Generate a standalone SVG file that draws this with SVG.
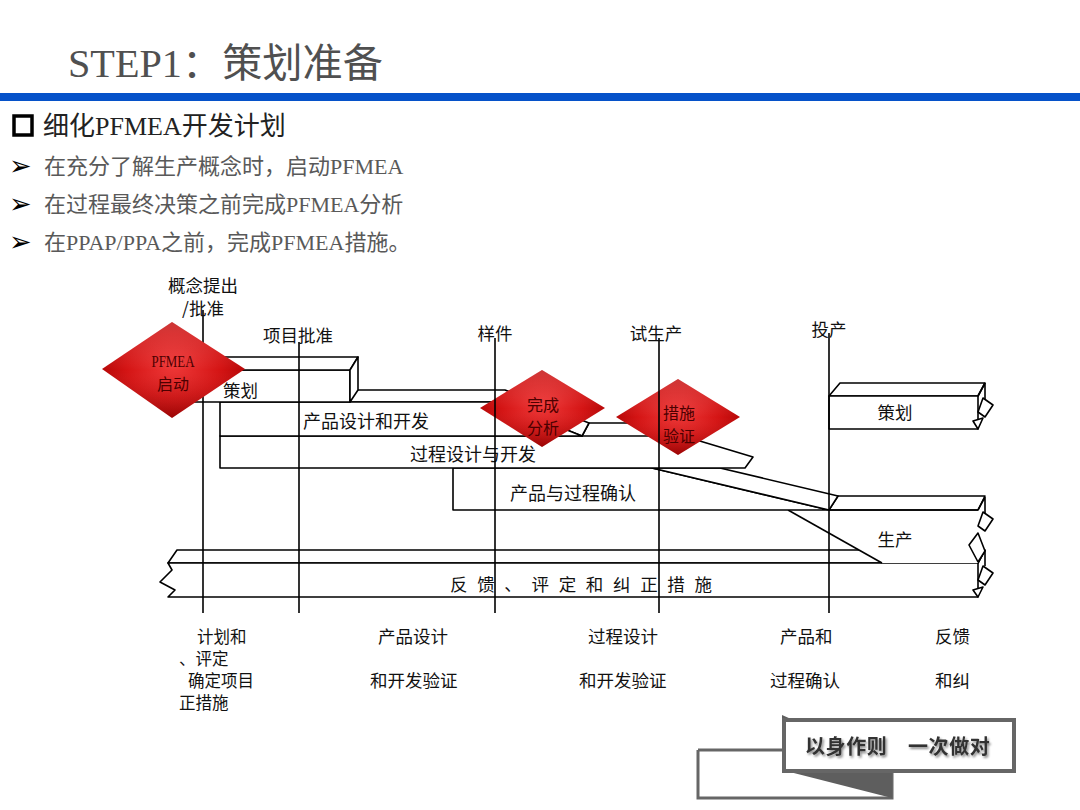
<svg xmlns="http://www.w3.org/2000/svg" width="1080" height="810" viewBox="0 0 1080 810">
<defs>
<style>
.cjk{font-family:"Liberation Serif","Noto Sans CJK SC",serif}
.lbl{font-family:"Noto Sans CJK SC",sans-serif;font-size:17.5px;fill:#111}
.slbl{font-family:"Noto Sans CJK SC",sans-serif;font-size:16.5px;fill:#111}
.blbl{font-family:"Noto Sans CJK SC",sans-serif;font-size:18px;fill:#111}
.mid{text-anchor:middle}
.ln{stroke:#000;stroke-width:1.6;fill:none}
.bar{fill:#fff;stroke:#000;stroke-width:1.6;stroke-linejoin:round}
.dtx{font-family:"Noto Sans CJK SC",sans-serif;font-size:16px;fill:#4d0000;text-anchor:middle}
.bul{font-family:"Liberation Serif","Noto Sans CJK SC",serif;font-size:22px;fill:#595959}
.arr{font-family:"DejaVu Sans",sans-serif;font-size:27px;fill:#000}
</style>
<radialGradient id="red" cx="50%" cy="45%" r="60%">
<stop offset="0" stop-color="#f03a3a"/>
<stop offset="0.55" stop-color="#d41414"/>
<stop offset="1" stop-color="#a80000"/>
</radialGradient>
<linearGradient id="shine" x1="0" y1="0" x2="0" y2="1">
<stop offset="0" stop-color="#fff" stop-opacity="0.18"/>
<stop offset="0.5" stop-color="#fff" stop-opacity="0"/>
<stop offset="1" stop-color="#000" stop-opacity="0.12"/>
</linearGradient>
<filter id="sh" x="-10%" y="-30%" width="120%" height="160%">
<feDropShadow dx="1.5" dy="2" stdDeviation="1.2" flood-color="#000" flood-opacity="0.45"/>
</filter>
</defs>

<rect width="1080" height="810" fill="#fff"/>

<!-- header -->
<g id="header">
<text x="68" y="77" class="cjk" font-size="40" fill="#505050" textLength="315" lengthAdjust="spacingAndGlyphs">STEP1：策划准备</text>
<rect x="0" y="93" width="1080" height="8" fill="#0652c9"/>
<rect x="14" y="116" width="18" height="19" fill="none" stroke="#000" stroke-width="3.5"/>
<text x="43" y="135" class="cjk" font-size="26" fill="#222">细化PFMEA开发计划</text>
</g>

<g id="bullets">
<text x="9" y="175" class="arr">➢</text>
<text x="44" y="174" class="bul">在充分了解生产概念时，启动PFMEA</text>
<text x="9" y="213" class="arr">➢</text>
<text x="44" y="212" class="bul">在过程最终决策之前完成PFMEA分析</text>
<text x="9" y="251" class="arr">➢</text>
<text x="44" y="250" class="bul">在PPAP/PPA之前，完成PFMEA措施。</text>
</g>

<!-- bars -->
<g id="feedback-bar">
<polygon class="bar" points="177,550 985,550 978,563 168,563"/>
<path class="bar" d="M168,563 L978,563 L978,597 L168,597 L175,590 L160,582 L172,570 Z"/>
<rect x="446" y="572" width="270" height="21" fill="#fff"/>
<g transform="translate(978,563)">
<path class="ln" d="M0,0 L7,-13 L7,3"/>
<polygon class="bar" points="5,3 15,10 7,22 0,17"/>
<polygon class="bar" points="-5,27 5,24 0,34"/>
</g>
<text x="450" y="591" class="lbl" textLength="262" lengthAdjust="spacing">反 馈 、 评 定 和 纠 正 措 施</text>
</g>

<g id="production-bar">
<polygon points="788,510 978,510 978,563 882,563" fill="#fff"/>
<line class="ln" x1="788" y1="510" x2="882" y2="563"/>
<polygon class="bar" points="838,496 985,496 978,510 829,510"/>
<g transform="translate(978,510)">
<path class="ln" d="M0,0 L7,-13 L7,3"/>
<polygon class="bar" points="5,2 15,9 7,21 0,16"/>
<polygon class="bar" points="0,23 -9,35 0,52 7,41"/>
</g>
<text x="895" y="546" class="lbl mid">生产</text>
</g>

<g id="validation-bar">
<polygon class="bar" points="453,468 652,468 829,510 453,510"/>
<line class="ln" x1="829" y1="510" x2="978" y2="510"/>
<polygon class="bar" points="652,468 720,468 838,496 829,510"/>
<text x="510" y="499.5" class="blbl">产品与过程确认</text>
</g>

<g id="process-bar">
<polygon class="bar" points="220,436 582,436 589,423 640,423 753,457 745,468 220,468"/>
<line class="ln" x1="582" y1="436" x2="650" y2="436"/>
<text x="410" y="461" class="blbl">过程设计与开发</text>
</g>

<g id="product-bar">
<polygon class="bar" points="350,390 505,390 589,423 582,436 497,402 350,402"/>
<polygon class="bar" points="220,402 497,402 582,436 220,436"/>
<text x="303" y="428" class="blbl">产品设计和开发</text>
</g>

<g id="plan-bar">
<polygon class="bar" points="172,370 350,370 350,402 172,402"/>
<polygon class="bar" points="185,357 358,357 350,370 172,370"/>
<polygon class="bar" points="350,370 358,357 358,390 350,402"/>
<text x="223" y="397" class="lbl">策划</text>
</g>

<g id="plan-bar-right">
<polygon class="bar" points="840,383 985,383 978,396 829,396"/>
<polygon class="bar" points="829,396 978,396 978,429 829,429"/>
<g transform="translate(978,396)">
<path class="ln" d="M0,0 L7,-13 L7,3"/>
<polygon class="bar" points="5,2 15,9 7,21 0,16"/>
<polygon class="bar" points="-5,25 5,22 0,33"/>
</g>
<text x="895" y="419" class="lbl mid">策划</text>
</g>

<!-- diamonds under timeline lines -->
<g id="diamond-analysis">
<polygon points="480,408 542,370 605,408 542,447" fill="url(#red)"/>
<polygon points="480,408 542,370 605,408 542,447" fill="url(#shine)"/>
<text x="543" y="411" class="dtx">完成</text>
<text x="543" y="434" class="dtx">分析</text>
</g>
<g id="diamond-verify">
<polygon points="616,417 678,379 740,417 678,455" fill="url(#red)"/>
<polygon points="616,417 678,379 740,417 678,455" fill="url(#shine)"/>
<text x="679" y="419" class="dtx">措施</text>
<text x="679" y="442" class="dtx">验证</text>
</g>

<!-- timeline lines -->
<g id="connectors">
<line class="ln" x1="203" y1="310" x2="203" y2="613"/>
<line class="ln" x1="299" y1="342" x2="299" y2="613"/>
<line class="ln" x1="495" y1="338" x2="495" y2="613"/>
<line class="ln" x1="659" y1="338" x2="659" y2="613"/>
<line class="ln" x1="829" y1="333" x2="829" y2="613"/>
</g>

<g id="diamond-start">
<polygon points="102,369 172,322 245,369 172,418" fill="url(#red)"/>
<polygon points="102,369 172,322 245,369 172,418" fill="url(#shine)"/>
<text x="173" y="367" font-family="Liberation Serif,serif" font-size="16" fill="#4d0000" text-anchor="middle" textLength="43" lengthAdjust="spacingAndGlyphs">PFMEA</text>
<text x="173" y="390" class="dtx">启动</text>
</g>

<!-- milestone labels -->
<g id="milestones">
<text x="203" y="292" class="lbl mid">概念提出</text>
<text x="203" y="315" class="lbl mid">/批准</text>
<text x="298" y="341.5" class="lbl mid">项目批准</text>
<text x="495" y="339.5" class="lbl mid">样件</text>
<text x="656" y="339.5" class="lbl mid">试生产</text>
<text x="829" y="336" class="lbl mid">投产</text>
</g>

<!-- phase labels -->
<g id="phases">
<text x="197" y="643" class="slbl">计划和</text>
<text x="179" y="665" class="slbl">、评定</text>
<text x="188" y="687" class="slbl">确定项目</text>
<text x="179" y="709" class="slbl">正措施</text>
<text x="378" y="643" class="lbl">产品设计</text>
<text x="370" y="687" class="lbl">和开发验证</text>
<text x="588" y="643" class="lbl">过程设计</text>
<text x="579" y="687" class="lbl">和开发验证</text>
<text x="780" y="643" class="lbl">产品和</text>
<text x="770" y="687" class="lbl">过程确认</text>
<text x="935" y="643" class="lbl">反馈</text>
<text x="935" y="687" class="lbl">和纠</text>
</g>

<!-- badge -->
<g id="badge">
<path d="M698,750 L784,750 M698,750 L698,798 L892,798 L892,772" fill="none" stroke="#666" stroke-width="3"/>
<polygon points="782,770 892,770 892,798" fill="#5e5e5e"/>
<polygon points="782,715 791,719 782,723" fill="#5e5e5e"/>
<rect x="784" y="720" width="230" height="51" fill="#fff" stroke="#666" stroke-width="4"/>
<text x="805" y="754" font-family="Noto Sans CJK SC,sans-serif" font-size="20" font-weight="bold" fill="#333" letter-spacing="0.6" filter="url(#sh)">以身作则　一次做对</text>
</g>
</svg>
